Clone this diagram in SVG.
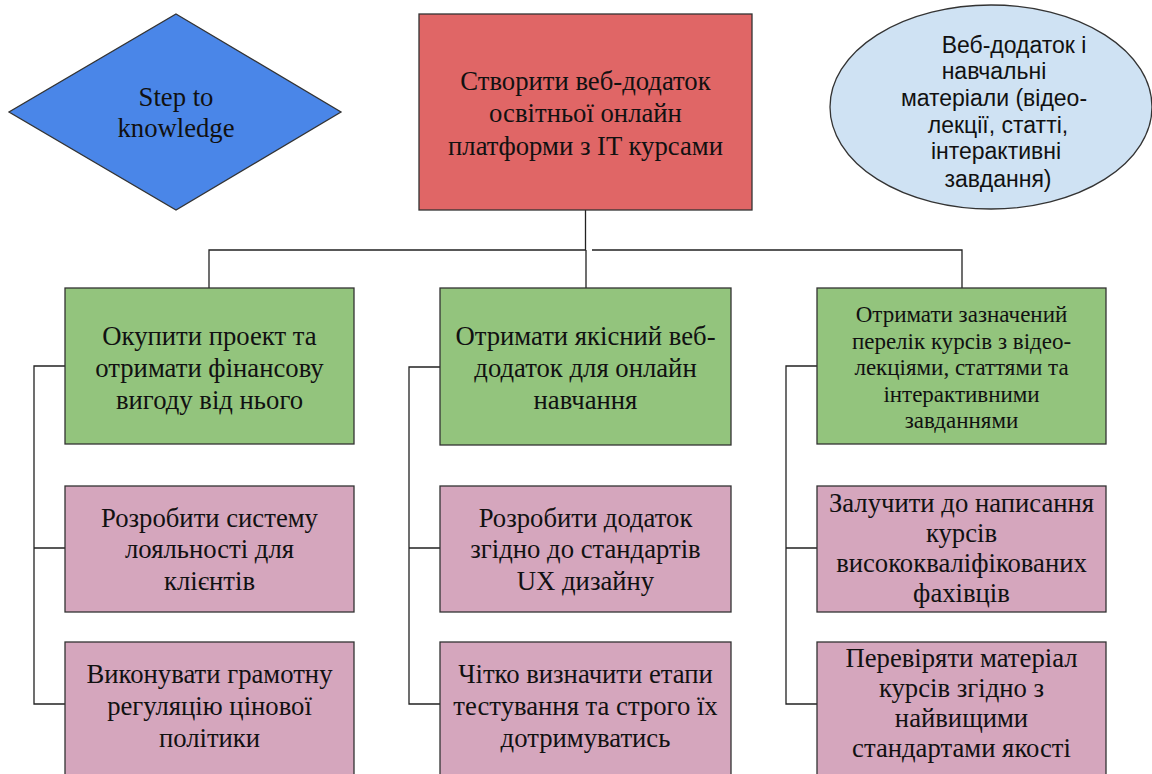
<svg xmlns="http://www.w3.org/2000/svg" width="1152" height="774" viewBox="0 0 1152 774">
<style>
.s{stroke:#333;stroke-width:1.3}
.t{font-family:"Liberation Serif","Times New Roman",serif;font-size:26.7px;fill:#111;text-anchor:middle}
.ts{font-family:"Liberation Serif","Times New Roman",serif;font-size:23px;fill:#111;text-anchor:middle}
.ta{font-family:"Liberation Sans",Arial,sans-serif;font-size:23px;fill:#111;text-anchor:middle}
.c{fill:none;stroke:#222;stroke-width:1.3}
.g{fill:#93c47d}
.p{fill:#d5a6bd}
</style>
<rect width="1152" height="774" fill="#fff"/>
<g id="connectors">
<path class="c" d="M585.5 210V250M209 288V250H586M592 250H962V288M586 250V288"/>
<path class="c" d="M65 366H34V704H65M34 548H65"/>
<path class="c" d="M440 367H409V704H440M409 548H440"/>
<path class="c" d="M817 366H786V704H817M786 548H817"/>
</g>
<g id="diamond">
<polygon class="s" fill="#4a86e8" points="176,14 341,112 176,210 9,112"/>
<text class="t" x="176" y="106">Step to</text>
<text class="t" x="176" y="137">knowledge</text>
</g>
<g id="root">
<rect class="s" fill="#e06666" x="419" y="14" width="333" height="196"/>
<text class="t" x="585.5" y="90">Створити веб-додаток</text>
<text class="t" x="585.5" y="122">освітньої онлайн</text>
<text class="t" x="585.5" y="155">платформи з IT курсами</text>
</g>
<g id="result">
<ellipse class="s" fill="#cfe2f3" cx="991" cy="107" rx="161" ry="102"/>
<text class="ta" x="1014" y="53">Веб-додаток і</text>
<text class="ta" x="994" y="79">навчальні</text>
<text class="ta" x="994" y="106">матеріали (відео-</text>
<text class="ta" x="998" y="133">лекції, статті,</text>
<text class="ta" x="996" y="159">інтерактивні</text>
<text class="ta" x="998" y="187">завдання)</text>
</g>
<g id="goal1">
<rect class="s g" x="65" y="288" width="289" height="156"/>
<text class="t" x="209.5" y="345">Окупити проект та</text>
<text class="t" x="209.5" y="377">отримати фінансову</text>
<text class="t" x="209.5" y="409">вигоду від нього</text>
</g>
<g id="task1a">
<rect class="s p" x="65" y="486" width="289" height="126"/>
<text class="t" x="209.5" y="527">Розробити систему</text>
<text class="t" x="209.5" y="558">лояльності для</text>
<text class="t" x="209.5" y="590">клієнтів</text>
</g>
<g id="task1b">
<rect class="s p" x="65" y="642" width="289" height="150"/>
<text class="t" x="209.5" y="683">Виконувати грамотну</text>
<text class="t" x="209.5" y="715">регуляцію цінової</text>
<text class="t" x="209.5" y="747">політики</text>
</g>
<g id="goal2">
<rect class="s g" x="440" y="288" width="291" height="157"/>
<text class="t" x="585.5" y="345">Отримати якісний веб-</text>
<text class="t" x="585.5" y="377">додаток для онлайн</text>
<text class="t" x="585.5" y="409">навчання</text>
</g>
<g id="task2a">
<rect class="s p" x="440" y="486" width="291" height="126"/>
<text class="t" x="585.5" y="527">Розробити додаток</text>
<text class="t" x="585.5" y="558">згідно до стандартів</text>
<text class="t" x="585.5" y="590">UX дизайну</text>
</g>
<g id="task2b">
<rect class="s p" x="440" y="642" width="291" height="150"/>
<text class="t" x="585.5" y="683">Чітко визначити етапи</text>
<text class="t" x="585.5" y="715">тестування та строго їх</text>
<text class="t" x="585.5" y="747">дотримуватись</text>
</g>
<g id="goal3">
<rect class="s g" x="817" y="288" width="289" height="156"/>
<text class="ts" x="961.5" y="322">Отримати зазначений</text>
<text class="ts" x="961.5" y="349">перелік курсів з відео-</text>
<text class="ts" x="961.5" y="375">лекціями, статтями та</text>
<text class="ts" x="961.5" y="402">інтерактивними</text>
<text class="ts" x="961.5" y="428">завданнями</text>
</g>
<g id="task3a">
<rect class="s p" x="817" y="486" width="289" height="126"/>
<text class="t" x="961.5" y="512">Залучити до написання</text>
<text class="t" x="961.5" y="542">курсів</text>
<text class="t" x="961.5" y="572">висококваліфікованих</text>
<text class="t" x="961.5" y="602">фахівців</text>
</g>
<g id="task3b">
<rect class="s p" x="817" y="642" width="289" height="150"/>
<text class="t" x="961.5" y="667">Перевіряти матеріал</text>
<text class="t" x="961.5" y="697">курсів згідно з</text>
<text class="t" x="961.5" y="727">найвищими</text>
<text class="t" x="961.5" y="757">стандартами якості</text>
</g>
</svg>
